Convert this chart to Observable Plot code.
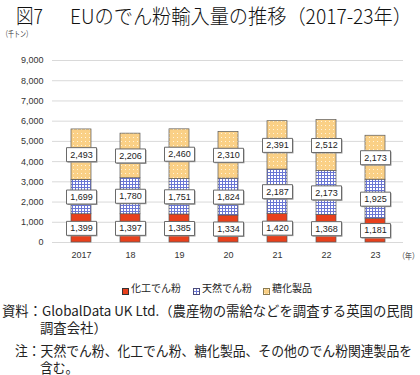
<!DOCTYPE html>
<html><head><meta charset="utf-8">
<script src="https://cdn.jsdelivr.net/npm/d3@7"></script>
<script src="https://cdn.jsdelivr.net/npm/@observablehq/plot@0.6"></script>
<style>
body{margin:0;background:#fff;font-family:"Noto Sans CJK JP",sans-serif;color:#222;}
#wrap{position:relative;width:420px;height:375px;overflow:hidden;background:#fff;}
.abs{position:absolute;white-space:nowrap;display:inline-block;transform-origin:left top;}
#chart{position:absolute;left:0;top:28px;}
.leg{position:absolute;font-size:10px;line-height:12px;white-space:nowrap;color:#222;}
.leg svg{vertical-align:-1px;margin-right:2px;}
.note{font-size:13.5px;line-height:16.5px;color:#222;}
.ttl{font-size:20px;line-height:22px;font-weight:300;color:#111;}
</style></head><body>
<svg width="0" height="0" style="position:absolute">
  <defs>
    <pattern id="pBlue" patternUnits="userSpaceOnUse" width="3" height="3">
      <rect width="3" height="3" fill="#ffffff"/>
      <path d="M0 0.5H3M0.5 0V3" stroke="#6a76d4" stroke-width="1"/>
    </pattern>
    <pattern id="pOrange" patternUnits="userSpaceOnUse" width="4" height="4">
      <rect width="4" height="4" fill="#fad086"/>
      <rect x="1" y="1" width="1" height="1" fill="#fff4dc"/>
    </pattern>
  </defs>
</svg>
<div id="wrap">
  <div class="abs ttl" id="t1" style="left:16px;top:5px">図7</div>
  <div class="abs ttl" id="t2" style="left:70px;top:5px">EUのでん粉輸入量の推移（2017-23年）</div>
  <div class="abs" id="uy" style="left:2px;top:28px;font-size:8px;line-height:11px;color:#333">（千トン）</div>
  <div id="chart"></div>
  <div class="abs" id="ux" style="left:398px;top:250px;font-size:8px;line-height:11px;color:#333">（年）</div>
  <div id="legend"></div>
  <div class="abs note" id="n1" style="left:2px;top:302px">資料：GlobalData UK Ltd.（農産物の需給などを調査する英国の民間<br><span id="n1b" style="display:inline-block;margin-left:38px">調査会社）</span></div>
  <div class="abs note" id="n3" style="left:15px;top:342px">注：天然でん粉、化工でん粉、糖化製品、その他のでん粉関連製品を<br><span id="n3b" style="display:inline-block;margin-left:25px">含む。</span></div>
</div>
<script>
const years = ["2017","18","19","20","21","22","23"];
const seriesNames = ["化工でん粉","天然でん粉","糖化製品"];
const modifiedStarch = [1399,1397,1385,1334,1420,1368,1181];
const nativeStarch   = [1699,1780,1751,1824,2187,2173,1925];
const saccharified   = [2493,2206,2460,2310,2391,2512,2173];
const yTicks = [0,1000,2000,3000,4000,5000,6000,7000,8000,9000];
const seriesFills = ["#e8401c","url(#pBlue)","url(#pOrange)"];

const data = [];
[modifiedStarch, nativeStarch, saccharified].forEach((arr, s) =>
  arr.forEach((v, i) => data.push({year: years[i], series: seriesNames[s], value: v})));

const fmt = d3.format(",");
const boxSymbol = {draw(ctx){ ctx.rect(-15, -7, 30, 14); }};

const chart = Plot.plot({
  width: 420, height: 240,
  marginTop: 32, marginBottom: 26, marginLeft: 52, marginRight: 17,
  style: {fontFamily: "'Liberation Sans', Arial, sans-serif", fontSize: "9px", color: "#333", background: "transparent"},
  x: {domain: years, paddingInner: 0.6, paddingOuter: 0.316, label: null, tickSize: 0, tickPadding: 9},
  y: {domain: [0, 9000], ticks: yTicks, tickFormat: fmt, label: null, tickSize: 0, tickPadding: 9},
  color: {domain: seriesNames, range: seriesFills},
  marks: [
    Plot.ruleY(yTicks, {stroke: "#d9d9d9", strokeWidth: 1}),
    Plot.barY(data, Plot.stackY({x: "year", y: "value", z: "series", fill: "series", stroke: "#5a5a5a", strokeWidth: 0.7})),
    Plot.dot(data, Plot.stackY({x: "year", y: "value", z: "series", symbol: boxSymbol, r: 5, fill: "#9a9a9a", stroke: "none", dx: 1, dy: 1})),
    Plot.dot(data, Plot.stackY({x: "year", y: "value", z: "series", symbol: boxSymbol, r: 5, fill: "#ffffff", stroke: "#6a6a6a", strokeWidth: 1})),
    Plot.text(data, Plot.stackY({x: "year", y: "value", z: "series", text: d => fmt(d.value), fill: "#222", fontSize: 9}))
  ]
});
document.getElementById("chart").appendChild(chart);

// legend
const legendItems = [
  {name: seriesNames[0], fill: seriesFills[0], stroke: "#333", sx: 122, tx: 131},
  {name: seriesNames[1], fill: seriesFills[1], stroke: "#4a4a7a", sx: 193, tx: 202},
  {name: seriesNames[2], fill: seriesFills[2], stroke: "#8a7a50", sx: 263, tx: 272}
];
const leg = document.getElementById("legend");
legendItems.forEach(it => {
  const sw = document.createElement("div");
  sw.className = "leg";
  sw.style.left = it.sx + "px"; sw.style.top = "284px";
  sw.innerHTML = `<svg width="7" height="7"><rect x="0.5" y="0.5" width="6" height="6" fill="${it.fill}" stroke="${it.stroke}" stroke-width="1"/></svg>`;
  leg.appendChild(sw);
  const tx = document.createElement("div");
  tx.className = "leg";
  tx.style.left = it.tx + "px"; tx.style.top = "281.5px";
  tx.textContent = it.name;
  leg.appendChild(tx);
});

// [element id, target width, inner indent span id, indent px]
const fits = [["t1", 27], ["t2", 342], ["uy", 30], ["ux", 21], ["n1", 411, "n1b", 38], ["n3", 397, "n3b", 25]];
function fitAll(){
  fits.forEach(([id, w, sub, ind]) => {
    const el = document.getElementById(id);
    el.style.transform = "none";
    const r = el.getBoundingClientRect().width;
    if (r > 0) {
      const k = w / r;
      el.style.transform = `scaleX(${k})`;
      if (sub) document.getElementById(sub).style.marginLeft = (ind / k) + "px";
    }
  });
}
fitAll();
if (document.fonts && document.fonts.ready) document.fonts.ready.then(fitAll);
</script>
</body></html>
